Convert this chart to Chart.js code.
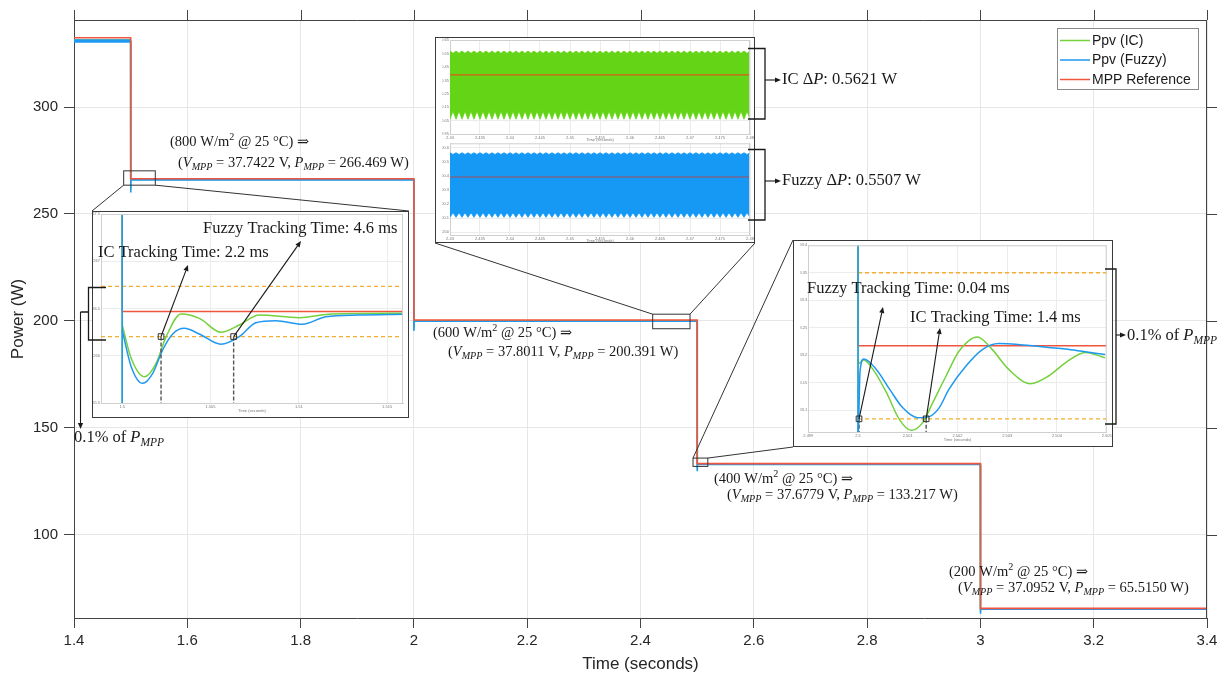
<!DOCTYPE html>
<html>
<head>
<meta charset="utf-8">
<script src="https://cdn.jsdelivr.net/npm/chart.js@4.4.1/dist/chart.umd.min.js"></script>
<style>
  html, body { margin: 0; padding: 0; background: #fff; }
  #wrap { position: relative; width: 1220px; height: 679px; overflow: hidden; }
  canvas { position: absolute; pointer-events: none; }
  .box { position: absolute; background: #fff; border: 1.5px solid #3a3a3a; box-sizing: border-box; }
</style>
</head>
<body>
<div id="wrap">
  <canvas id="main" width="1220" height="679" style="left:0;top:0"></canvas>
  <div class="box" style="left:92px;top:211px;width:317px;height:207px"></div>
  <div class="box" style="left:435px;top:37px;width:320px;height:206px"></div>
  <div class="box" style="left:793px;top:240px;width:320px;height:207px"></div>
  <canvas id="in1" width="360" height="250" style="left:60px;top:200px"></canvas>
  <canvas id="in2a" width="515" height="114" style="left:425px;top:30px"></canvas>
  <canvas id="in2b" width="515" height="115" style="left:425px;top:140px"></canvas>
  <canvas id="in3" width="440" height="230" style="left:780px;top:230px"></canvas>
</div>
<script>
// ---- main plot data ----
const xTicks = [1.4, 1.6, 1.8, 2, 2.2, 2.4, 2.6, 2.8, 3, 3.2, 3.4];
const yTicks = [100, 150, 200, 250, 300];

const tRef = [1.4, 1.5, 1.5, 2.0, 2.0, 2.5, 2.5, 3.0, 3.0, 3.4];
const pRef = [332.4, 332.4, 266.469, 266.469, 200.391, 200.391, 133.217, 133.217, 65.515, 65.515];

const tPv = [1.4, 1.5, 1.5, 1.5005, 2.0, 2.0, 2.0005, 2.5, 2.5, 2.5005, 3.0, 3.0, 3.0005, 3.4];
const pFuzzy = [330.9, 330.9, 260.0, 265.9, 265.9, 195.3, 199.8, 199.8, 129.6, 132.8, 132.8, 63.0, 65.1, 65.1];
const pIC = [331.3, 331.3, 261.5, 266.1, 266.1, 196.5, 200.0, 200.0, 130.5, 133.0, 133.0, 64.0, 65.3, 65.3];

// zoom windows marked on the main plot (time range, power range)
const zoomT = [[1.4877, 1.5435], [2.4215, 2.4874], [2.4927, 2.5188]];
const zoomP = [[263.45, 270.15], [196.3, 203.1], [131.9, 135.8]];

// ---- inset 1: 800 W/m2 step at t = 1.5 s ----
const in1XTicks = [1.5, 1.505, 1.51, 1.515];
const in1YTicks = [265.5, 266, 266.5, 267, 267.5];
const in1SpikeT = [1.4988, 1.5, 1.5, 1.5];
const in1SpikeFz = [331, 331, 260, 266.272];
const in1SpikeIC = [332, 332, 261, 266.325];
const in1FzT = [1.5, 1.50051, 1.50116, 1.50173, 1.50229, 1.50286, 1.50352, 1.50437, 1.50559, 1.50663, 1.50757, 1.5087, 1.5102, 1.51153, 1.5134, 1.5159];
const in1Fz = [266.272, 265.884, 265.708, 265.814, 266.061, 266.230, 266.290, 266.230, 266.121, 266.202, 266.350, 266.371, 266.333, 266.413, 266.431, 266.439];
const in1ICT = [1.5, 1.50051, 1.50126, 1.50192, 1.50249, 1.50333, 1.50437, 1.50559, 1.50663, 1.50776, 1.51002, 1.5119, 1.5159];
const in1IC = [266.325, 265.973, 265.778, 265.920, 266.202, 266.442, 266.396, 266.248, 266.325, 266.431, 266.403, 266.442, 266.449];
const in1RefT = [1.4988, 1.5, 1.5, 1.5159];
const in1Ref = [332.4, 332.4, 266.469, 266.469];
const in1Band = [266.735, 266.203];
const in1Hits = [1.5022, 1.50631];

// ---- inset 2: steady-state ripple at 600 W/m2 ----
const in2XTicks = [2.43, 2.435, 2.44, 2.445, 2.45, 2.455, 2.46, 2.465, 2.47, 2.475, 2.48];
const in2aYTicks = [199.95, 200.05, 200.15, 200.25, 200.35, 200.45, 200.55, 200.65];
const in2bYTicks = [200, 200.1, 200.2, 200.3, 200.4, 200.5, 200.6];
const rippleT = [
  2.4300, 2.4305, 2.4310, 2.4315, 2.4320, 2.4325, 2.4330, 2.4335, 2.4340, 2.4345,
  2.4350, 2.4355, 2.4360, 2.4365, 2.4370, 2.4375, 2.4380, 2.4385, 2.4390, 2.4395,
  2.4400, 2.4405, 2.4410, 2.4415, 2.4420, 2.4425, 2.4430, 2.4435, 2.4440, 2.4445,
  2.4450, 2.4455, 2.4460, 2.4465, 2.4470, 2.4475, 2.4480, 2.4485, 2.4490, 2.4495,
  2.4500, 2.4505, 2.4510, 2.4515, 2.4520, 2.4525, 2.4530, 2.4535, 2.4540, 2.4545,
  2.4550, 2.4555, 2.4560, 2.4565, 2.4570, 2.4575, 2.4580, 2.4585, 2.4590, 2.4595,
  2.4600, 2.4605, 2.4610, 2.4615, 2.4620, 2.4625, 2.4630, 2.4635, 2.4640, 2.4645,
  2.4650, 2.4655, 2.4660, 2.4665, 2.4670, 2.4675, 2.4680, 2.4685, 2.4690, 2.4695,
  2.4700, 2.4705, 2.4710, 2.4715, 2.4720, 2.4725, 2.4730, 2.4735, 2.4740, 2.4745,
  2.4750, 2.4755, 2.4760, 2.4765, 2.4770, 2.4775, 2.4780, 2.4785, 2.4790, 2.4795,
  2.4800];
const icUpper = [
  200.568, 200.551, 200.568, 200.551, 200.568, 200.551, 200.568, 200.551, 200.568, 200.551,
  200.568, 200.551, 200.568, 200.551, 200.568, 200.551, 200.568, 200.551, 200.568, 200.551,
  200.568, 200.551, 200.568, 200.551, 200.568, 200.551, 200.568, 200.551, 200.568, 200.551,
  200.568, 200.551, 200.568, 200.551, 200.568, 200.551, 200.568, 200.551, 200.568, 200.551,
  200.568, 200.551, 200.568, 200.551, 200.568, 200.551, 200.568, 200.551, 200.568, 200.551,
  200.568, 200.551, 200.568, 200.551, 200.568, 200.551, 200.568, 200.551, 200.568, 200.551,
  200.568, 200.551, 200.568, 200.551, 200.568, 200.551, 200.568, 200.551, 200.568, 200.551,
  200.568, 200.551, 200.568, 200.551, 200.568, 200.551, 200.568, 200.551, 200.568, 200.551,
  200.568, 200.551, 200.568, 200.551, 200.568, 200.551, 200.568, 200.551, 200.568, 200.551,
  200.568, 200.551, 200.568, 200.551, 200.568, 200.551, 200.568, 200.551, 200.568, 200.551,
  200.568];
const icLower = [
  200.062, 200.121, 200.062, 200.121, 200.062, 200.121, 200.062, 200.121, 200.062, 200.121,
  200.062, 200.121, 200.062, 200.121, 200.062, 200.121, 200.062, 200.121, 200.062, 200.121,
  200.062, 200.121, 200.062, 200.121, 200.062, 200.121, 200.062, 200.121, 200.062, 200.121,
  200.062, 200.121, 200.062, 200.121, 200.062, 200.121, 200.062, 200.121, 200.062, 200.121,
  200.062, 200.121, 200.062, 200.121, 200.062, 200.121, 200.062, 200.121, 200.062, 200.121,
  200.062, 200.121, 200.062, 200.121, 200.062, 200.121, 200.062, 200.121, 200.062, 200.121,
  200.062, 200.121, 200.062, 200.121, 200.062, 200.121, 200.062, 200.121, 200.062, 200.121,
  200.062, 200.121, 200.062, 200.121, 200.062, 200.121, 200.062, 200.121, 200.062, 200.121,
  200.062, 200.121, 200.062, 200.121, 200.062, 200.121, 200.062, 200.121, 200.062, 200.121,
  200.062, 200.121, 200.062, 200.121, 200.062, 200.121, 200.062, 200.121, 200.062, 200.121,
  200.062];
const fzUpper = [
  200.563, 200.551, 200.563, 200.551, 200.563, 200.551, 200.563, 200.551, 200.563, 200.551,
  200.563, 200.551, 200.563, 200.551, 200.563, 200.551, 200.563, 200.551, 200.563, 200.551,
  200.563, 200.551, 200.563, 200.551, 200.563, 200.551, 200.563, 200.551, 200.563, 200.551,
  200.563, 200.551, 200.563, 200.551, 200.563, 200.551, 200.563, 200.551, 200.563, 200.551,
  200.563, 200.551, 200.563, 200.551, 200.563, 200.551, 200.563, 200.551, 200.563, 200.551,
  200.563, 200.551, 200.563, 200.551, 200.563, 200.551, 200.563, 200.551, 200.563, 200.551,
  200.563, 200.551, 200.563, 200.551, 200.563, 200.551, 200.563, 200.551, 200.563, 200.551,
  200.563, 200.551, 200.563, 200.551, 200.563, 200.551, 200.563, 200.551, 200.563, 200.551,
  200.563, 200.551, 200.563, 200.551, 200.563, 200.551, 200.563, 200.551, 200.563, 200.551,
  200.563, 200.551, 200.563, 200.551, 200.563, 200.551, 200.563, 200.551, 200.563, 200.551,
  200.563];
const fzLower = [
  200.105, 200.138, 200.105, 200.138, 200.105, 200.138, 200.105, 200.138, 200.105, 200.138,
  200.105, 200.138, 200.105, 200.138, 200.105, 200.138, 200.105, 200.138, 200.105, 200.138,
  200.105, 200.138, 200.105, 200.138, 200.105, 200.138, 200.105, 200.138, 200.105, 200.138,
  200.105, 200.138, 200.105, 200.138, 200.105, 200.138, 200.105, 200.138, 200.105, 200.138,
  200.105, 200.138, 200.105, 200.138, 200.105, 200.138, 200.105, 200.138, 200.105, 200.138,
  200.105, 200.138, 200.105, 200.138, 200.105, 200.138, 200.105, 200.138, 200.105, 200.138,
  200.105, 200.138, 200.105, 200.138, 200.105, 200.138, 200.105, 200.138, 200.105, 200.138,
  200.105, 200.138, 200.105, 200.138, 200.105, 200.138, 200.105, 200.138, 200.105, 200.138,
  200.105, 200.138, 200.105, 200.138, 200.105, 200.138, 200.105, 200.138, 200.105, 200.138,
  200.105, 200.138, 200.105, 200.138, 200.105, 200.138, 200.105, 200.138, 200.105, 200.138,
  200.105];
const in2RefT = [2.43, 2.48];
const in2Ref = [200.391, 200.391];

// ---- inset 3: 400 W/m2 step at t = 2.5 s ----
const in3XTicks = [2.499, 2.5, 2.501, 2.502, 2.503, 2.504, 2.505];
const in3YTicks = [133.1, 133.15, 133.2, 133.25, 133.3, 133.35, 133.4];
const in3SpikeT = [2.499, 2.5, 2.5, 2.5];
const in3SpikeFz = [200.2, 200.2, 128.9, 133.06];
const in3SpikeIC = [200.3, 200.3, 130.0, 133.19];
const in3FzT = [2.5, 2.50001, 2.50004, 2.500114, 2.500368, 2.500634, 2.5009, 2.5012, 2.50143, 2.50163, 2.50183, 2.50217, 2.5025, 2.50283, 2.50317, 2.5035, 2.50383, 2.50417, 2.5045, 2.50497];
const in3Fz = [133.06, 133.07, 133.17, 133.193, 133.174, 133.138, 133.104, 133.086, 133.088, 133.104, 133.138, 133.180, 133.210, 133.221, 133.220, 133.217, 133.214, 133.211, 133.207, 133.201];
const in3ICT = [2.5, 2.50002, 2.500114, 2.5003, 2.50057, 2.50083, 2.50107, 2.5013, 2.5015, 2.50177, 2.50203, 2.5024, 2.5027, 2.50303, 2.50347, 2.50383, 2.50417, 2.50457, 2.50497];
const in3IC = [133.19, 133.185, 133.191, 133.174, 133.132, 133.083, 133.063, 133.077, 133.113, 133.162, 133.207, 133.233, 133.210, 133.174, 133.148, 133.162, 133.186, 133.205, 133.195];
const in3RefT = [2.499, 2.5, 2.5, 2.505];
const in3Ref = [200.391, 200.391, 133.217, 133.217];
const in3Band = [133.350, 133.084];
const in3Hits = [2.50002, 2.50137];

// ---- styles ----
const SANS = '"Liberation Sans", Arial, sans-serif';
const SERIF = '"Liberation Serif", "DejaVu Serif", serif';
const RED = '#F2553D', BLUE = '#1E98F0', GREEN = '#74D13C', ORANGE = '#F2AE2E';
Chart.defaults.font.family = SANS;

const xy = (ts, ps) => ts.map((t, i) => ({ x: t, y: ps[i] }));
const fmt = v => String(+(+v).toFixed(4));

function rich(ctx, parts, x, y, size) {
  ctx.textBaseline = 'middle';
  ctx.textAlign = 'left';
  let cx = x;
  for (const [s, st] of parts) {
    let fs = size, dy = 0, it = false;
    if (st === 'i') it = true;
    if (st === 'sub') { fs = size * 0.7; dy = size * 0.3; it = true; }
    if (st === 'sup') { fs = size * 0.7; dy = -size * 0.35; }
    ctx.font = (it ? 'italic ' : '') + fs + 'px ' + SERIF;
    ctx.fillText(s, cx, y + dy);
    cx += ctx.measureText(s).width;
  }
}

function arrow(ctx, x1, y1, x2, y2) {
  const a = Math.atan2(y2 - y1, x2 - x1), L = 6, W = 2.6;
  ctx.beginPath();
  ctx.moveTo(x1, y1);
  ctx.lineTo(x2 - L * Math.cos(a), y2 - L * Math.sin(a));
  ctx.stroke();
  ctx.beginPath();
  ctx.moveTo(x2, y2);
  ctx.lineTo(x2 - L * Math.cos(a) + W * Math.sin(a), y2 - L * Math.sin(a) - W * Math.cos(a));
  ctx.lineTo(x2 - L * Math.cos(a) - W * Math.sin(a), y2 - L * Math.sin(a) + W * Math.cos(a));
  ctx.closePath();
  ctx.fill();
}

// ---- main chart ----
const IN1 = { l: 92, t: 211, r: 409, b: 418 };
const IN2 = { l: 435, t: 37, r: 755, b: 243 };
const IN3 = { l: 793, t: 240, r: 1113, b: 447 };

const mainDeco = {
  id: 'mainDeco',
  afterDraw(chart) {
    const { ctx, chartArea: a, scales: { x, y } } = chart;
    ctx.save();
    // top / right frame with outward ticks
    ctx.strokeStyle = '#444';
    ctx.lineWidth = 1;
    ctx.beginPath();
    ctx.moveTo(a.left, a.top + 0.5); ctx.lineTo(a.right, a.top + 0.5);
    ctx.moveTo(a.right - 0.5, a.top); ctx.lineTo(a.right - 0.5, a.bottom);
    xTicks.forEach(v => { const px = Math.round(x.getPixelForValue(v)) + 0.5; ctx.moveTo(px, a.top); ctx.lineTo(px, a.top - 10); });
    yTicks.forEach(v => { const py = Math.round(y.getPixelForValue(v)) + 0.5; ctx.moveTo(a.right, py); ctx.lineTo(a.right + 10, py); });
    ctx.stroke();

    // zoom rectangles + connector lines to the insets
    ctx.strokeStyle = '#333';
    ctx.lineWidth = 1;
    const r = zoomT.map((tt, i) => ({
      l: x.getPixelForValue(tt[0]), r: x.getPixelForValue(tt[1]),
      t: y.getPixelForValue(zoomP[i][1]), b: y.getPixelForValue(zoomP[i][0])
    }));
    r.forEach(q => ctx.strokeRect(q.l, q.t, q.r - q.l, q.b - q.t));
    ctx.beginPath();
    ctx.moveTo(r[0].l, r[0].b); ctx.lineTo(IN1.l, IN1.t);
    ctx.moveTo(r[0].r, r[0].b); ctx.lineTo(IN1.r, IN1.t);
    ctx.moveTo(r[1].l, r[1].t); ctx.lineTo(IN2.l, IN2.b);
    ctx.moveTo(r[1].r, r[1].t); ctx.lineTo(IN2.r, IN2.b);
    ctx.moveTo(r[2].l, r[2].t); ctx.lineTo(IN3.l, IN3.t);
    ctx.moveTo(r[2].r, r[2].t); ctx.lineTo(IN3.l, IN3.b);
    ctx.stroke();

    // operating point notes
    ctx.fillStyle = '#1a1a1a';
    const notes = [
      ['800', '37.7422', '266.469', 170, 142, 178, 163],
      ['600', '37.8011', '200.391', 433, 333, 448, 352],
      ['400', '37.6779', '133.217', 714, 479, 727, 495],
      ['200', '37.0952', '65.5150', 949, 572, 958, 588]
    ];
    notes.forEach(n => {
      rich(ctx, [['(' + n[0] + ' W/m', ''], ['2', 'sup'], [' @ 25 \u00B0C) \u21D2', '']], n[3], n[4], 14.5);
      rich(ctx, [['(', ''], ['V', 'i'], ['MPP', 'sub'], [' = ' + n[1] + ' V, ', ''], ['P', 'i'], ['MPP', 'sub'], [' = ' + n[2] + ' W)', '']], n[5], n[6], 14.5);
    });

    // legend
    ctx.fillStyle = '#fff';
    ctx.fillRect(1057, 28.5, 141, 61);
    ctx.strokeStyle = '#8a8a8a';
    ctx.strokeRect(1057.5, 28.5, 141, 61);
    const items = [[2, 40.5], [1, 60], [0, 79.5]];
    ctx.font = '14px ' + SANS;
    ctx.textBaseline = 'middle';
    ctx.textAlign = 'left';
    items.forEach(([di, yy]) => {
      const ds = chart.data.datasets[di];
      ctx.strokeStyle = ds.borderColor;
      ctx.lineWidth = 1.5;
      ctx.beginPath(); ctx.moveTo(1060, yy); ctx.lineTo(1090, yy); ctx.stroke();
      ctx.fillStyle = '#1a1a1a';
      ctx.fillText(ds.label, 1092, yy + 0.5);
    });
    ctx.restore();
  }
};

new Chart(document.getElementById('main'), {
  type: 'line',
  data: {
    datasets: [
      { label: 'MPP Reference', data: xy(tRef, pRef), borderColor: RED, borderWidth: 1.6, order: 1 },
      { label: 'Ppv (Fuzzy)', data: xy(tPv, pFuzzy), borderColor: BLUE, borderWidth: 1.6, order: 2,
        segment: { borderWidth: c => (c.p0.parsed.x < 1.5 ? 3.5 : 1.6) } },
      { label: 'Ppv (IC)', data: xy(tPv, pIC), borderColor: GREEN, borderWidth: 1.6, order: 3 }
    ]
  },
  options: {
    responsive: false, animation: false, events: [],
    elements: { point: { radius: 0 }, line: { tension: 0, fill: false } },
    plugins: { legend: { display: false }, tooltip: { enabled: false } },
    layout: { padding: { left: 0, top: 20, right: 13, bottom: 0 } },
    scales: {
      x: {
        type: 'linear', min: 1.4, max: 3.4,
        afterBuildTicks: s => { s.ticks = xTicks.map(v => ({ value: v })); },
        afterFit: s => { s.height = 61; s.paddingLeft = 0; s.paddingRight = 0; },
        ticks: { callback: v => fmt(v), font: { size: 15 }, color: '#262626', padding: 4, maxRotation: 0, autoSkip: false },
        grid: { color: '#e6e6e6', tickColor: '#444', tickLength: 10 },
        border: { color: '#444', width: 1 },
        title: { display: true, text: 'Time (seconds)', font: { size: 17 }, color: '#262626', padding: { top: 2, bottom: 4 } }
      },
      y: {
        type: 'linear', min: 61, max: 340.7,
        afterBuildTicks: s => { s.ticks = yTicks.map(v => ({ value: v })); },
        afterFit: s => { s.width = 74; s.paddingTop = 0; s.paddingBottom = 0; },
        ticks: { callback: v => fmt(v), font: { size: 15 }, color: '#262626', padding: 6 },
        grid: { color: '#e6e6e6', tickColor: '#444', tickLength: 10 },
        border: { color: '#444', width: 1 },
        title: { display: true, text: 'Power (W)', font: { size: 17 }, color: '#262626', padding: { top: 8, bottom: 0 } }
      }
    }
  },
  plugins: [mainDeco]
});

// ---- inset helpers ----
function insetOptions(cv, area, xr, yr, xt, yt, xh) {
  const YW = 8, XH = xh || 10;
  const tiny = { family: SANS, size: 4 };
  return {
    responsive: false, animation: false, events: [],
    elements: { point: { radius: 0 }, line: { tension: 0, borderWidth: 1.5, fill: false } },
    plugins: { legend: { display: false }, tooltip: { enabled: false } },
    layout: { padding: {
      left: area.l - cv.l - YW, top: area.t - cv.t,
      right: cv.l + cv.w - area.r, bottom: cv.t + cv.h - area.b - XH } },
    scales: {
      x: {
        type: 'linear', min: xr[0], max: xr[1],
        afterBuildTicks: s => { s.ticks = xt.map(v => ({ value: v })); },
        afterFit: s => { s.height = XH; s.paddingLeft = 0; s.paddingRight = 0; },
        ticks: { callback: v => fmt(v), font: tiny, color: '#777', padding: 1, maxRotation: 0, autoSkip: false },
        grid: { color: '#ececec', drawTicks: false },
        border: { color: '#cfcfcf' },
        title: { display: true, text: 'Time (seconds)', font: tiny, color: '#777', padding: 0 }
      },
      y: {
        type: 'linear', min: yr[0], max: yr[1],
        afterBuildTicks: s => { s.ticks = yt.map(v => ({ value: v })); },
        afterFit: s => { s.width = YW; s.paddingTop = 0; s.paddingBottom = 0; },
        ticks: { callback: v => fmt(v), font: tiny, color: '#777', padding: 1 },
        grid: { color: '#ececec', drawTicks: false },
        border: { color: '#cfcfcf' }
      }
    }
  };
}

function insetDeco(cv, draw) {
  return {
    id: 'insetDeco',
    afterDraw(chart) {
      const ctx = chart.ctx, a = chart.chartArea;
      ctx.save();
      ctx.translate(-cv.l, -cv.t);
      ctx.strokeStyle = '#cfcfcf';
      ctx.lineWidth = 1;
      ctx.beginPath();
      ctx.moveTo(a.left + cv.l, a.top + cv.t + 0.5); ctx.lineTo(a.right + cv.l, a.top + cv.t + 0.5);
      ctx.moveTo(a.right + cv.l - 0.5, a.top + cv.t); ctx.lineTo(a.right + cv.l - 0.5, a.bottom + cv.t);
      ctx.stroke();
      const P = (t, v) => [chart.scales.x.getPixelForValue(t) + cv.l, chart.scales.y.getPixelForValue(v) + cv.t];
      ctx.strokeStyle = '#1a1a1a';
      ctx.fillStyle = '#1a1a1a';
      ctx.lineWidth = 1.1;
      draw(ctx, P);
      ctx.restore();
    }
  };
}

function bandSets(t0, t1, band, yBottom, hits) {
  return [
    { data: xy([t0, t1], [band[0], band[0]]), borderColor: ORANGE, borderWidth: 1.3, borderDash: [4, 3], order: 4 },
    { data: xy([t0, t1], [band[1], band[1]]), borderColor: ORANGE, borderWidth: 1.3, borderDash: [4, 3], order: 4 },
    { data: xy([hits[0], hits[0]], [band[1], yBottom]), borderColor: '#555', borderWidth: 1.4, borderDash: [4, 2], order: 1 },
    { data: xy([hits[1], hits[1]], [band[1], yBottom]), borderColor: '#555', borderWidth: 1.4, borderDash: [4, 2], order: 1 },
    { data: xy(hits, [band[1], band[1]]), showLine: false, pointStyle: 'rect', pointRadius: 4,
      pointBorderColor: '#333', pointBackgroundColor: 'rgba(0,0,0,0)', pointBorderWidth: 1, order: 0 }
  ];
}

// ---- inset 1 ----
const cv1 = { l: 60, t: 200, w: 360, h: 250 };
new Chart(document.getElementById('in1'), {
  type: 'line',
  data: { datasets: [
    { data: xy(in1SpikeT, in1SpikeFz), borderColor: BLUE, order: 1 },
    { data: xy(in1FzT, in1Fz), borderColor: BLUE, cubicInterpolationMode: 'monotone', order: 2 },
    { data: xy(in1SpikeT, in1SpikeIC), borderColor: GREEN, order: 3 },
    { data: xy(in1ICT, in1IC), borderColor: GREEN, cubicInterpolationMode: 'monotone', order: 2 },
    { data: xy(in1RefT, in1Ref), borderColor: RED, order: 3 },
    ...bandSets(1.4988, 1.5159, in1Band, 265.5, in1Hits)
  ] },
  options: insetOptions(cv1, { l: 101, t: 214, r: 403, b: 403 }, [1.4988, 1.5159], [265.5, 267.5], in1XTicks, in1YTicks, 10),
  plugins: [insetDeco(cv1, (ctx, P) => {
    rich(ctx, [['Fuzzy Tracking Time: 4.6 ms', '']], 203, 228.5, 16.5);
    rich(ctx, [['IC Tracking Time: 2.2 ms', '']], 98, 253, 16.5);
    let s = P(in1Hits[0], in1Band[1]);
    arrow(ctx, s[0], s[1], 188, 265);
    s = P(in1Hits[1], in1Band[1]);
    arrow(ctx, s[0], s[1], 301, 241);
    ctx.lineWidth = 1.3;
    ctx.beginPath();
    ctx.moveTo(106, 287.5); ctx.lineTo(88.5, 287.5); ctx.lineTo(88.5, 340); ctx.lineTo(106, 340);
    ctx.moveTo(88.5, 312); ctx.lineTo(80.5, 312);
    ctx.stroke();
    ctx.lineWidth = 1.1;
    arrow(ctx, 80.5, 312, 80.5, 429);
    rich(ctx, [['0.1% of ', ''], ['P', 'i'], ['MPP', 'sub']], 74, 438, 16.5);
  })]
});

// ---- inset 2 (top: IC, bottom: Fuzzy) ----
const cv2a = { l: 425, t: 30, w: 515, h: 114 };
new Chart(document.getElementById('in2a'), {
  type: 'line',
  data: { datasets: [
    { data: xy(in2RefT, in2Ref), borderColor: '#D95A1A', borderWidth: 1.3, order: 0 },
    { data: xy(rippleT, icUpper), borderColor: '#64D416', borderWidth: 0.8, backgroundColor: '#64D416', fill: '+1', order: 1 },
    { data: xy(rippleT, icLower), borderColor: '#64D416', borderWidth: 0.8, order: 2 }
  ] },
  options: insetOptions(cv2a, { l: 450, t: 40, r: 750, b: 134.3 }, [2.43, 2.48], [199.95, 200.65], in2XTicks, in2aYTicks, 8),
  plugins: [insetDeco(cv2a, (ctx) => {
    ctx.lineWidth = 1.3;
    ctx.beginPath();
    ctx.moveTo(748, 48.5); ctx.lineTo(765, 48.5); ctx.lineTo(765, 119); ctx.lineTo(748, 119);
    ctx.stroke();
    ctx.lineWidth = 1.1;
    arrow(ctx, 765, 80, 781, 80);
    rich(ctx, [['IC ', ''], ['\u0394', ''], ['P', 'i'], [': 0.5621 W', '']], 782, 80, 16.5);
  })]
});

const cv2b = { l: 425, t: 140, w: 515, h: 115 };
new Chart(document.getElementById('in2b'), {
  type: 'line',
  data: { datasets: [
    { data: xy(in2RefT, in2Ref), borderColor: '#76668F', borderWidth: 1.3, order: 0 },
    { data: xy(rippleT, fzUpper), borderColor: '#1599F5', borderWidth: 0.8, backgroundColor: '#1599F5', fill: '+1', order: 1 },
    { data: xy(rippleT, fzLower), borderColor: '#1599F5', borderWidth: 0.8, order: 2 }
  ] },
  options: insetOptions(cv2b, { l: 450, t: 143.3, r: 750, b: 235 }, [2.43, 2.48], [199.98, 200.63], in2XTicks, in2bYTicks, 8),
  plugins: [insetDeco(cv2b, (ctx) => {
    ctx.lineWidth = 1.3;
    ctx.beginPath();
    ctx.moveTo(748, 149.5); ctx.lineTo(765, 149.5); ctx.lineTo(765, 220); ctx.lineTo(748, 220);
    ctx.stroke();
    ctx.lineWidth = 1.1;
    arrow(ctx, 765, 181, 781, 181);
    rich(ctx, [['Fuzzy ', ''], ['\u0394', ''], ['P', 'i'], [': 0.5507 W', '']], 782, 181, 16.5);
  })]
});

// ---- inset 3 ----
const cv3 = { l: 780, t: 230, w: 440, h: 230 };
new Chart(document.getElementById('in3'), {
  type: 'line',
  data: { datasets: [
    { data: xy(in3SpikeT, in3SpikeFz), borderColor: BLUE, order: 1 },
    { data: xy(in3FzT, in3Fz), borderColor: BLUE, cubicInterpolationMode: 'monotone', order: 2 },
    { data: xy(in3SpikeT, in3SpikeIC), borderColor: GREEN, order: 3 },
    { data: xy(in3ICT, in3IC), borderColor: GREEN, cubicInterpolationMode: 'monotone', order: 2 },
    { data: xy(in3RefT, in3Ref), borderColor: RED, order: 3 },
    ...bandSets(2.5, 2.505, in3Band, 133.06, in3Hits)
  ] },
  options: insetOptions(cv3, { l: 808.3, t: 245.3, r: 1106.7, b: 432 }, [2.499, 2.505], [133.06, 133.4], in3XTicks, in3YTicks, 10),
  plugins: [insetDeco(cv3, (ctx, P) => {
    rich(ctx, [['Fuzzy Tracking Time: 0.04 ms', '']], 807, 288.5, 16.5);
    rich(ctx, [['IC Tracking Time: 1.4 ms', '']], 910, 318, 16.5);
    let s = P(in3Hits[0], in3Band[1]);
    arrow(ctx, s[0], s[1], 883, 307);
    s = P(in3Hits[1], in3Band[1]);
    arrow(ctx, s[0], s[1], 940, 328);
    ctx.lineWidth = 1.3;
    ctx.beginPath();
    ctx.moveTo(1105, 269); ctx.lineTo(1116, 269); ctx.lineTo(1116, 424); ctx.lineTo(1105, 424);
    ctx.stroke();
    ctx.lineWidth = 1.1;
    arrow(ctx, 1116, 335, 1126, 335);
    rich(ctx, [['0.1% of ', ''], ['P', 'i'], ['MPP', 'sub']], 1127, 336, 16.5);
  })]
});
</script>
</body>
</html>
